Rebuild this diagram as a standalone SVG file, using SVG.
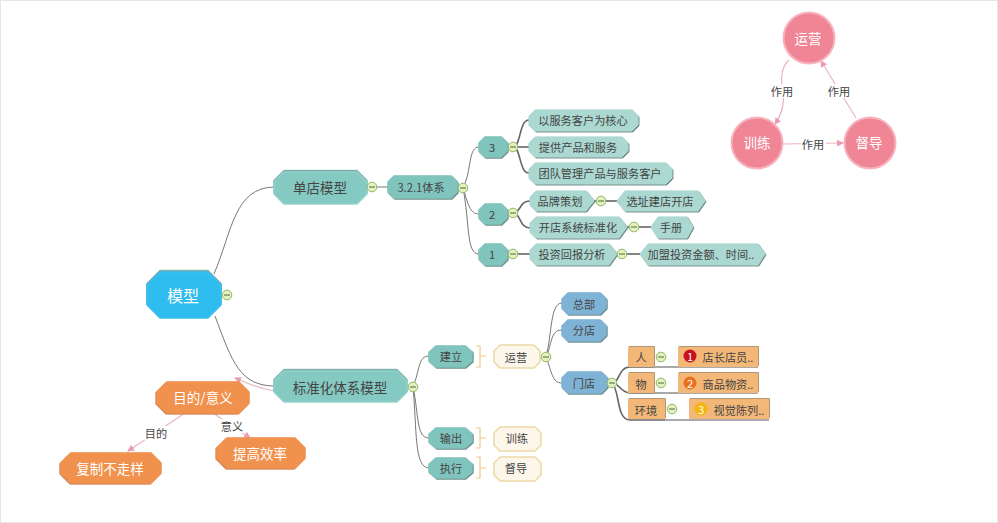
<svg xmlns="http://www.w3.org/2000/svg" width="998" height="523" viewBox="0 0 998 523">
<style>
text{font-family:"Noto Sans CJK SC","Liberation Sans",sans-serif;text-anchor:middle;dominant-baseline:central;font-size:11.2px;fill:#444}
.w{fill:#fff}
polygon{stroke-linejoin:round}
.root{fill:#2fbdee;stroke:#3cc0ee;stroke-width:1.5;filter:url(#top)}
.l1{fill:#84c9c2;stroke:#93d3cc;stroke-width:1.5;filter:url(#top)}
.l2{fill:#80c4be;stroke:#80c4be;stroke-width:1.5;filter:url(#sh)}
.mint{fill:#abd9d1;stroke:#abd9d1;stroke-width:1;filter:url(#sh)}
.blue{fill:#7fb3d6;stroke:#7fb3d6;stroke-width:1.5;filter:url(#sh)}
.cream{fill:#fdf6ea;stroke:#edd9a8;stroke-width:1.6}
.tan{fill:#f3b878;filter:url(#top2)}
.or{fill:#f0924e;stroke:#f0924e;stroke-width:1.5;filter:url(#top3)}
.pk{fill:#f08595;stroke:#f7b4be;stroke-width:2}
.c{fill:none;stroke:#777;stroke-width:1}
.t{fill:none;stroke:#666;stroke-width:1.6}
.ul{fill:none;stroke:#555;stroke-width:1.2}
.br{fill:none;stroke:#f0c98c;stroke-width:1.2}
.a{fill:none;stroke:#ecb4c0;stroke-width:1.2;marker-end:url(#ah)}
.lb{fill:#fff}
</style>
<defs>
<filter id="sh" x="-10%" y="-10%" width="120%" height="130%"><feDropShadow dx=".8" dy=".8" stdDeviation="0.4" flood-color="#55736e"/></filter>
<filter id="top" x="-10%" y="-15%" width="120%" height="130%"><feDropShadow dx="0" dy="-1.2" stdDeviation="0.4" flood-color="#5e9c99"/></filter>
<filter id="top2" x="-10%" y="-15%" width="120%" height="130%"><feDropShadow dx=".8" dy="-.8" stdDeviation="0.3" flood-color="#9c7c52"/></filter>
<filter id="top3" x="-10%" y="-15%" width="120%" height="130%"><feDropShadow dx="-.8" dy=".8" stdDeviation="0.4" flood-color="#d0744a"/></filter>
<marker id="ah" markerWidth="7" markerHeight="7" refX="6" refY="3.5" orient="auto" markerUnits="userSpaceOnUse"><path d="M0,0L7,3.5L0,7z" fill="#ea9fb0"/></marker>
<g id="tg"><circle r="4.8" fill="#e3f1bf" stroke="#8fb96a" stroke-width="1"/><path d="M-3,0H3" stroke="#4d6b3a" stroke-width="1"/></g>
</defs>
<rect width="998" height="523" fill="#fff"/>
<rect x=".5" y=".5" width="997" height="522" fill="none" stroke="#e6e6e6"/>

<g id="connectors">
<path class="c" d="M214,274C232,232 234,187 275,187"/>
<path class="c" d="M215,316C232,362 240,386 275,386"/>
<path class="c" d="M367,187H388"/>
<path class="c" d="M463,188C472,170 468,147 479,147"/>
<path class="c" d="M463,188C468,204 470,214 479,214"/>
<path class="c" d="M463,188C470,224 466,254 479,254"/>
<path class="t" d="M513,147C521,147 519,120 529,120"/>
<path class="t" d="M513,147H529"/>
<path class="t" d="M513,147C521,147 519,173 529,173"/>
<path class="t" d="M513,213C521,213 519,201 530,201"/>
<path class="t" d="M513,213C521,213 519,228 530,228"/>
<path class="t" d="M513,254H530"/>
<path class="t" d="M594,201H617"/>
<path class="t" d="M627,227H651"/>
<path class="t" d="M617,254H640"/>
<path class="c" d="M413,387C420,370 418,356 429,356"/>
<path class="c" d="M413,387C419,415 416,438 429,438"/>
<path class="c" d="M413,387C417,430 414,468 429,468"/>
<path class="c" d="M546,357C552,335 550,303 562,303"/>
<path class="c" d="M546,357C552,345 550,330 562,330"/>
<path class="c" d="M546,357C552,372 552,383 562,383"/>
<path class="t" d="M612,383C620,383 618,367 630,367H654"/>
<path class="t" d="M612,383C620,383 620,393 630,393H654"/>
<path class="t" d="M612,383C620,390 616,420 630,420H665"/>
<path class="ul" d="M654,367H758M654,393H758M665,420H769"/>
<path class="br" d="M476,346H480V367H476M480,356H486"/>
<path class="br" d="M476,428H480V448H476M480,438H486"/>
<path class="br" d="M476,457H480V478H476M480,468H486"/>
<path class="a" d="M274,391C262,389 248,384 235,378"/>
<path class="a" d="M185,413L128,451"/>
<path class="a" d="M213,413L250,438"/>
<path class="a" d="M789,60C780,68 781,82 783,92C785,104 782,114 775,124"/>
<path class="a" d="M856,118L821,61"/>
<path class="a" d="M783,144L843,143"/>
<rect class="lb" x="144" y="426" width="25" height="14"/><text x="156" y="433">目的</text>
<rect class="lb" x="220" y="419" width="25" height="14"/><text x="232" y="426">意义</text>
<rect class="lb" x="770" y="84" width="25" height="14"/><text x="782" y="91">作用</text>
<rect class="lb" x="827" y="84" width="25" height="14"/><text x="839" y="91">作用</text>
<rect class="lb" x="801" y="137" width="25" height="14"/><text x="813" y="144">作用</text>
</g>

<g id="n-root"><polygon class="root" points="160,272 208,272 221,285 221,305 208,318 160,318 147,305 147,285"/><text class="w" x="183" y="295" style="font-size:16px">模型</text><use href="#tg" x="227" y="295"/></g>
<g id="n-dandian"><polygon class="l1" points="284,172 357,172 367,182 367,194 357,204 284,204 274,194 274,182"/><text x="320" y="187" style="font-size:13.5px">单店模型</text><use href="#tg" x="372" y="187"/></g>
<g id="n-321"><polygon class="l2" points="394,176 451,176 457,182 457,192 451,198 394,198 388,192 388,182"/><text x="421" y="187">3.2.1体系</text><use href="#tg" x="463" y="188"/></g>

<g id="n-3"><polygon class="l2" points="485,137 501,137 507,143 507,151 501,157 485,157 479,151 479,143"/><text x="492" y="147">3</text><use href="#tg" x="513" y="147"/></g>
<g id="n-3a"><polygon class="mint" points="535,110 632,110 638,116 638,125 632,131 535,131 529,125 529,116"/><text x="583" y="120">以服务客户为核心</text></g>
<g id="n-3b"><polygon class="mint" points="535,137 622,137 628,143 628,151 622,157 535,157 529,151 529,143"/><text x="578" y="147">提供产品和服务</text></g>
<g id="n-3c"><polygon class="mint" points="535,163 666,163 672,169 672,178 666,184 535,184 529,178 529,169"/><text x="600" y="173">团队管理产品与服务客户</text></g>
<g id="n-2"><polygon class="l2" points="485,204 501,204 507,210 507,218 501,224 485,224 479,218 479,210"/><text x="492" y="214">2</text><use href="#tg" x="513" y="213"/></g>
<g id="n-2a"><polygon class="mint" points="536,191 586,191 594,201 586,211 536,211 530,205 530,197"/><text x="560" y="201">品牌策划</text><use href="#tg" x="601" y="201"/></g>
<g id="n-2a1"><polygon class="mint" points="625,191 698,191 705,201 698,211 625,211 617,201"/><text x="660" y="201">选址建店开店</text></g>
<g id="n-2b"><polygon class="mint" points="536,217 619,217 627,227 619,238 536,238 530,232 530,223"/><text x="578" y="227">开店系统标准化</text><use href="#tg" x="634" y="227"/></g>
<g id="n-2b1"><polygon class="mint" points="658,217 687,217 693,227 687,238 658,238 651,227"/><text x="671" y="227">手册</text></g>
<g id="n-1"><polygon class="l2" points="485,244 501,244 507,250 507,259 501,265 485,265 479,259 479,250"/><text x="492" y="254">1</text><use href="#tg" x="513" y="254"/></g>
<g id="n-1a"><polygon class="mint" points="536,244 609,244 617,254 609,265 536,265 530,259 530,250"/><text x="572" y="254">投资回报分析</text><use href="#tg" x="622" y="254"/></g>
<g id="n-1a1"><polygon class="mint" points="648,244 758,244 765,254 758,265 648,265 640,254"/><text x="701" y="254">加盟投资金额、时间..</text></g>

<g id="n-std"><polygon class="l1" points="284,371 397,371 407,381 407,392 397,402 284,402 274,392 274,381"/><text x="340" y="387" style="font-size:13.5px">标准化体系模型</text><use href="#tg" x="413" y="387"/></g>
<g id="n-jl"><polygon class="l2" points="436,346 465,346 472,352 472,361 465,367 436,367 429,361 429,352"/><text x="451" y="356">建立</text></g>
<g id="n-sc"><polygon class="l2" points="436,428 465,428 472,434 472,442 465,448 436,448 429,442 429,434"/><text x="451" y="438">输出</text></g>
<g id="n-zx"><polygon class="l2" points="436,458 465,458 472,464 472,472 465,478 436,478 429,472 429,464"/><text x="451" y="468">执行</text></g>
<g id="n-yy"><polygon class="cream" points="500,345 534,345 540,351 540,362 534,368 500,368 494,362 494,351"/><text x="516" y="357">运营</text><use href="#tg" x="546" y="357"/></g>
<g id="n-xl"><polygon class="cream" points="500,427 535,427 541,433 541,445 535,451 500,451 494,445 494,433"/><text x="517" y="438">训练</text></g>
<g id="n-dd"><polygon class="cream" points="500,457 535,457 541,463 541,475 535,481 500,481 494,475 494,463"/><text x="516" y="468">督导</text></g>
<g id="n-zb"><polygon class="blue" points="568,293 600,293 606,299 606,308 600,314 568,314 562,308 562,299"/><text x="584" y="304">总部</text></g>
<g id="n-fd"><polygon class="blue" points="568,320 600,320 606,326 606,335 600,341 568,341 562,335 562,326"/><text x="584" y="330">分店</text></g>
<g id="n-md"><polygon class="blue" points="568,372 601,372 607,378 607,387 601,393 568,393 562,387 562,378"/><text x="584" y="383">门店</text><use href="#tg" x="612" y="383"/></g>
<g id="n-r"><rect class="tan" x="628" y="347" width="26" height="20"/><text x="641" y="357">人</text><use href="#tg" x="661" y="357"/></g>
<g id="n-r1"><rect class="tan" x="678" y="347" width="80" height="20"/><circle cx="690" cy="356" r="6.5" fill="#c8101e"/><text class="w" x="690" y="356">1</text><text x="728" y="357">店长店员..</text></g>
<g id="n-w"><rect class="tan" x="628" y="373" width="26" height="20"/><text x="641" y="384">物</text><use href="#tg" x="661" y="383"/></g>
<g id="n-w1"><rect class="tan" x="678" y="373" width="80" height="20"/><circle cx="690" cy="383" r="6.5" fill="#e8711c"/><text class="w" x="690" y="383">2</text><text x="728" y="384">商品物资..</text></g>
<g id="n-hj"><rect class="tan" x="628" y="399" width="37" height="20"/><text x="646" y="410">环境</text><use href="#tg" x="672" y="409"/></g>
<g id="n-hj1"><rect class="tan" x="689" y="399" width="80" height="20"/><circle cx="701" cy="409" r="6.5" fill="#f5b50a"/><text class="w" x="701" y="409">3</text><text x="739" y="410">视觉陈列..</text></g>

<g id="n-md2"><polygon class="or" points="167,382 239,382 249,392 249,403 239,413 167,413 157,403 157,392"/><text class="w" x="203" y="397" style="font-size:13.5px">目的/意义</text></g>
<g id="n-fz"><polygon class="or" points="71,453 151,453 161,463 161,473 151,483 71,483 61,473 61,463"/><text class="w" x="110" y="468" style="font-size:13.5px">复制不走样</text></g>
<g id="n-tg"><polygon class="or" points="227,438 295,438 305,448 305,458 295,468 227,468 217,458 217,448"/><text class="w" x="260" y="453" style="font-size:13.5px">提高效率</text></g>

<g id="c-yy"><circle class="pk" cx="809" cy="38" r="25.5"/><text class="w" x="808" y="38" style="font-size:13.5px">运营</text></g>
<g id="c-xl"><circle class="pk" cx="757" cy="143" r="25.5"/><text class="w" x="757" y="142" style="font-size:13.5px">训练</text></g>
<g id="c-dd"><circle class="pk" cx="870" cy="143" r="25.5"/><text class="w" x="869" y="142" style="font-size:13.5px">督导</text></g>
</svg>
